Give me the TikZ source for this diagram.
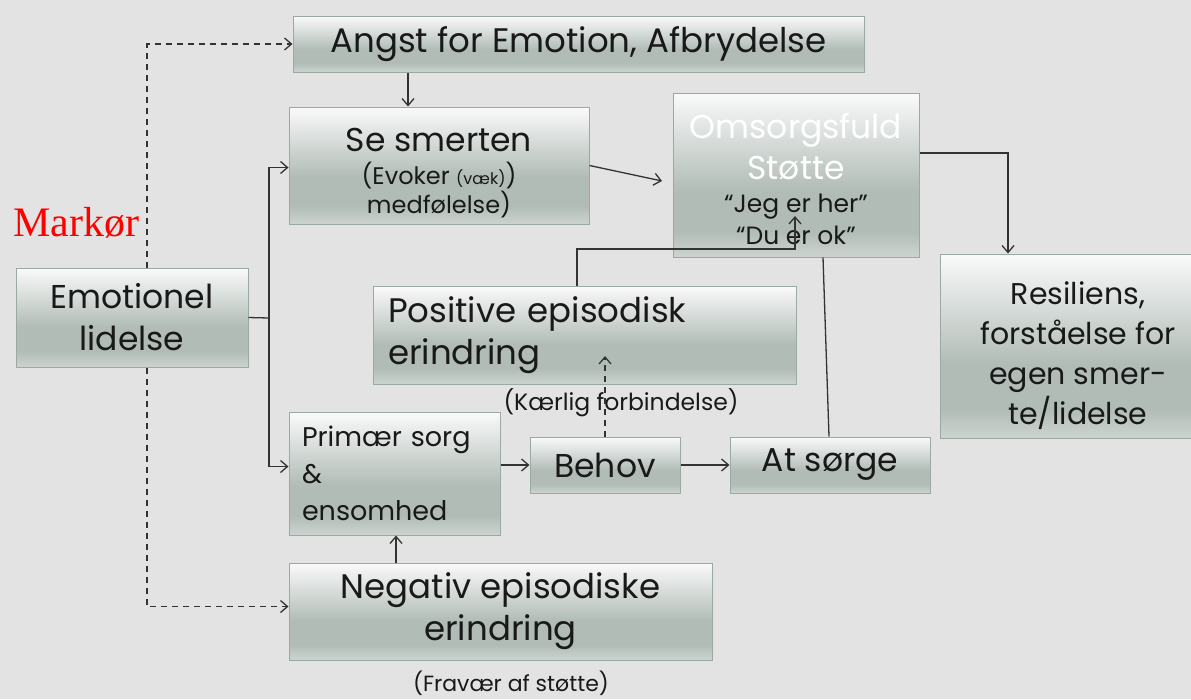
\documentclass[tikz,border=0pt]{standalone}
\usepackage{fontspec}
\setmainfont{Poppins}
\newfontfamily\markfont{Liberation Serif}
\usetikzlibrary{arrows.meta}
\definecolor{bgc}{HTML}{E3E3E3}
\definecolor{edgec}{HTML}{9AA9A1}
\definecolor{linec}{HTML}{333333}
\definecolor{shT}{HTML}{FAFAFA}
\definecolor{shM}{HTML}{B1BCB6}
\definecolor{shB}{HTML}{CDD4D0}
\pgfdeclareverticalshading{boxshade}{100bp}{color(0bp)=(shB); color(25bp)=(shB); color(33bp)=(shM); color(45bp)=(shM); color(75bp)=(shT); color(100bp)=(shT)}
\newcommand{\fs}[2]{\fontsize{#1}{#2}\selectfont}
\newcommand{\lift}[1]{\rule{0pt}{#1pt}}
\begin{document}
\begin{tikzpicture}[x=1pt,y=-1pt,
  box/.style={draw=edgec, line width=1pt, shading=boxshade, inner sep=0pt, align=center, text=black!90},
  conn/.style={draw=linec, line width=1.3pt, -{Straight Barb[length=7pt,width=12pt,line width=1.3pt]}},
  plain/.style={draw=linec, line width=1.3pt},
  dconn/.style={conn, dash pattern=on 6pt off 5pt},
  lbl/.style={inner sep=0pt, text=black!90}]
\fill[bgc] (0,0) rectangle (1191,699);
\useasboundingbox (0,0) rectangle (1191,699);

\node[box, minimum width=571, minimum height=56, font=\fs{34}{40}] (angst) at (578.5,44) {Angst for Emotion, Afbrydelse};
\node[box, minimum width=300, minimum height=117, font=\fs{24}{29}] (se) at (439,165.5)
  {{\fs{33}{40}\lift{38}Se smerten}\\[4pt](Evoker {\fs{16}{18}(væk)})\\medfølelse)};
\node[box, minimum width=246, minimum height=164, font=\fs{25}{32}] (oms) at (796,175)
  {{\fs{33}{40}\color{white}\lift{33}Omsorgsfuld}\\[8pt]{\fs{33}{40}\color{white}Støtte}\\[1pt]“Jeg er her”\\“Du er ok”};
\node[box, minimum width=232, minimum height=99, font=\fs{33}{42}] (emo) at (132,317.5) {Emotionel\\lidelse};
\node[box, minimum width=423, minimum height=98, font=\fs{34}{42}, align=left, text width=393, inner xsep=15pt] (pos) at (584.5,335) {Positive episodisk\\erindring};
\node[box, minimum width=276, minimum height=184, font=\fs{30}{40}] (res) at (1078,346) {\lift{42}Resiliens,\\forståelse for\\egen smer-\\te/lidelse};
\node[box, minimum width=211, minimum height=123, font=\fs{27}{37}, align=left, text width=185, inner xsep=13pt] (prim) at (394.5,473.5) {Primær sorg\\\&\\ensomhed};
\node[box, minimum width=150, minimum height=56, font=\fs{33}{40}] (behov) at (605,465) {Behov};
\node[box, minimum width=200, minimum height=56, font=\fs{33}{40}] (sorge) at (830,465) {At sørge};
\node[box, minimum width=423, minimum height=97, font=\fs{34}{42}] (neg) at (500.5,611.5) {Negativ episodiske\\erindring};

\node[lbl, font=\fs{23.5}{28}] (kaer) at (621,403) {(Kærlig forbindelse)};
\node[lbl, font=\fs{22}{26}] (frav) at (511,683) {(Fravær af støtte)};
\node[inner sep=0pt, anchor=base west, text=red, font=\markfont\fs{42}{48}] (mark) at (13,236) {Markør};

% coordinates
\coordinate (dl) at (147,0);
\coordinate (br) at (269,318);
\coordinate (a1) at (408,0);
\coordinate (e1) at (662,181);
\coordinate (r1) at (1008,153);
\coordinate (p1) at (577,249);
\coordinate (p2) at (795,216);
\coordinate (s1) at (823,0);
\coordinate (s2) at (829,0);
\coordinate (k1) at (605,356);
\coordinate (k2) at (396,0);

% dashed marker lines
\draw[dconn] (emo.north -| dl) |- (angst.west);
\draw[dconn] (emo.south -| dl) |- ([yshift=5pt]neg.west);
% branch from Emotionel
\draw[plain] (emo.east) -- (br);
\draw[conn] (br) |- ([yshift=-2pt]se.west);
\draw[conn] (br) |- ([yshift=7pt]prim.west);
% angst -> se
\draw[conn] (angst.south -| a1) -- (se.north -| a1);
% se -> omsorg
\draw[conn] (se.east) -- (e1);
% omsorg -> resiliens
\draw[conn] (oms.east |- r1) -| (res.north -| r1);
% positive -> omsorg
\draw[conn] (pos.north -| p1) |- (p2 |- p1) -- (p2);
% at sorge -- omsorg
\draw[plain] (sorge.north -| s2) -- (oms.south -| s1);
% behov dashed up
\draw[dconn] (behov.north -| k1) -- (k1);
% prim -> behov -> sorge
\draw[conn] (prim.east |- behov.west) -- (behov.west);
\draw[conn] (behov.east) -- (sorge.west);
% neg -> prim
\draw[conn] (neg.north -| k2) -- (prim.south -| k2);
\end{tikzpicture}
\end{document}
